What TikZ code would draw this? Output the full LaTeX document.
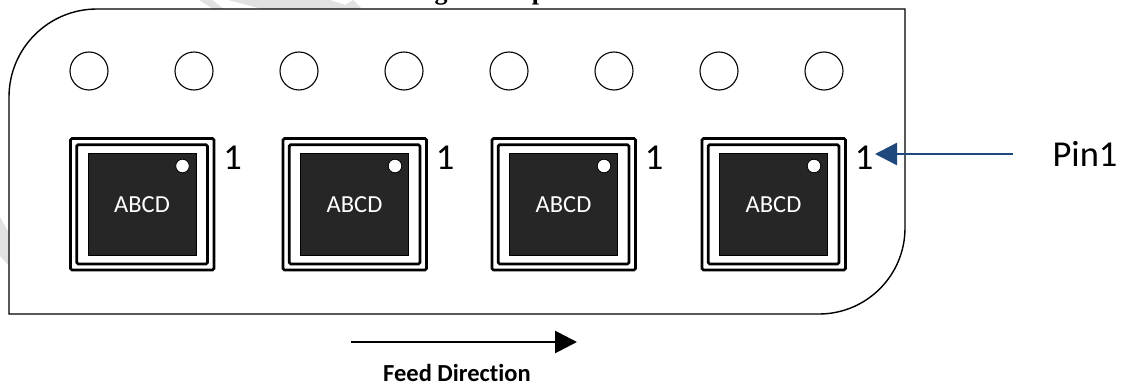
\documentclass[tikz,border=0pt]{standalone}
\usepackage{fontspec}
\setmainfont[RawFeature={-liga}]{Carlito}
\newfontfamily\captionfont{Liberation Serif}
\usetikzlibrary{arrows.meta}
\definecolor{chipgray}{HTML}{262626}
\definecolor{pinblue}{HTML}{1F497D}
\definecolor{markgray}{HTML}{E1E1E1}

\begin{document}
\begin{tikzpicture}[x=1pt,y=-1pt]
        \tikzset{hole/.style={draw=black,line width=1.1pt},
            frame/.style={draw=black,line width=2.7pt,rounded corners=1.5pt},
            chip/.style={fill=chipgray,draw=black,line width=.4pt,inner sep=0pt,
                minimum width=108pt,minimum height=102pt},
            numlabel/.style={inner sep=0pt,font=\fontsize{36.5}{40}\selectfont}}

        \useasboundingbox (0, 0) rectangle (1125, 385);

        % watermark behind the tape
        \fill[markgray] (199, 0) -- (213, 9) -- (224, 9) -- (212, 0) -- cycle
            (228, 0) -- (262, 9) -- (362, 9) -- (353, 0) -- (345, 5) -- (330, 0) -- cycle
            (0, 217) -- (8, 231) -- (8, 265) -- (0, 256) -- cycle;

        % clipped caption line
        \begin{scope}
            \clip (0, 0) rectangle (1125, 385);
            \node[anchor=base east,inner sep=0pt,font=\captionfont\bfseries\fontsize{26}{30}\selectfont]
                (caption) at (558, 0) {Packages in Tape};
        \end{scope}

        % tape
        \draw[fill=white,line width=1.4pt] (9, 97) arc[start angle=180,end angle=270,radius=88]
            -- (905, 9) -- (905, 228) arc[start angle=0,end angle=90,radius=86]
            -- (9, 314) -- cycle;

        \foreach \x in {89, 194, 299, 404, 509, 614, 719, 824}
            \draw[hole] (\x, 71) circle (19);

        \foreach \n/\x in {1/0, 2/212.5, 3/421.5, 4/631.5} {
            \begin{scope}[xshift=\x pt]
                \draw[frame] (70.5, 138.5) rectangle (214, 270);
                \draw[frame] (76.7, 144.7) rectangle (207.5, 264);
                \node[chip] (chip\n) at (142, 204) {};
                \node[text=white,font=\fontsize{24.5}{26}\selectfont,inner sep=0pt] (name\n) at (142, 205) {ABCD};
                \draw[black,fill=white,line width=.8pt] (182.5, 166) circle (6.8);
                \node[numlabel] (one\n) at (232.5, 158) {1};
            \end{scope}
        }

        \node[numlabel] (pin) at (1085, 154) {Pin1};
        \draw[-{Triangle[length=22pt,width=22pt]},pinblue,line width=2.4pt,shorten <=39pt] (pin.west) -- (875, 154);

        \coordinate (feedstart) at (351, 342);
        \coordinate (feedend) at (577, 342);
        \draw[-{Triangle[length=22pt,width=22pt]},black,line width=2.8pt] (feedstart) -- (feedend);
        \node[inner sep=0pt,font=\bfseries\fontsize{24.5}{28}\selectfont] (feed) at (457, 373) {Feed Direction};
    \end{tikzpicture}
\end{document}
